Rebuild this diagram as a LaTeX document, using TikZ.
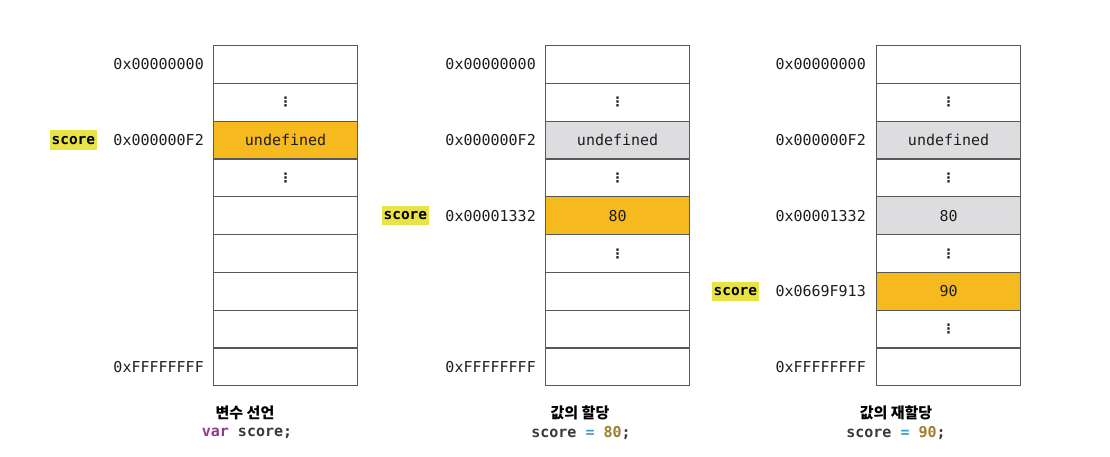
\documentclass[tikz,border=0pt]{standalone}
\usepackage{fontspec}
\setmonofont{DejaVu Sans Mono}
\newfontfamily\krfont{Noto Sans CJK KR}
\newfontfamily\symfont{DejaVu Sans}
\definecolor{cellline}{RGB}{88,88,88}
\definecolor{cellorange}{RGB}{246,185,30}
\definecolor{cellgray}{RGB}{221,220,223}
\definecolor{hlyellow}{RGB}{232,228,72}
\definecolor{txt}{RGB}{30,30,30}
\definecolor{kwpurple}{RGB}{140,60,140}
\definecolor{opblue}{RGB}{60,160,205}
\definecolor{numgold}{RGB}{162,123,46}
\definecolor{codegray}{RGB}{58,58,58}
\newcommand{\vd}{{\symfont\bfseries\fontsize{13}{14}\selectfont ⋮}}
\tikzset{
  cell/.style={draw=cellline, line width=1.2pt, minimum width=144pt, minimum height=37.8pt,
    inner sep=0pt, anchor=north west, text=txt, font=\ttfamily\fontsize{15}{18}\selectfont},
  addr/.style={anchor=east, inner sep=0pt, text=txt, font=\ttfamily\fontsize{15}{18}\selectfont},
  hl/.style={anchor=east, fill=hlyellow, inner xsep=1.6pt, inner ysep=0pt, minimum height=19.5pt,
    text=black, font=\ttfamily\bfseries\fontsize{14.5}{17}\selectfont},
  krcap/.style={inner sep=0pt, text=black, font=\krfont\bfseries\fontsize{15}{17}\selectfont},
  codecap/.style={inner sep=0pt, text=codegray, font=\ttfamily\bfseries\fontsize{15}{17}\selectfont}
}
\begin{document}
\begin{tikzpicture}[x=1pt,y=-1pt]
\useasboundingbox[fill=white] (0,0) rectangle (1110,457);
% ---------- column 1 ----------
\node[cell] (c1r0) at (213,45) {};
\node[cell] (c1r1) at (213,82.8) {\vd};
\node[cell, fill=cellorange] (c1r2) at (213,120.6) {undefined};
\node[cell] (c1r3) at (213,158.4) {\vd};
\node[cell] (c1r4) at (213,196.2) {};
\node[cell] (c1r5) at (213,234) {};
\node[cell] (c1r6) at (213,271.8) {};
\node[cell] (c1r7) at (213,309.6) {};
\node[cell] (c1r8) at (213,347.4) {};
\node[addr] (a1r0) at ([xshift=-9pt]c1r0.west) {0x00000000};
\node[addr] (a1r2) at ([xshift=-9pt]c1r2.west) {0x000000F2};
\node[addr] (a1r8) at ([xshift=-9pt]c1r8.west) {0xFFFFFFFF};
\node[hl] (s1) at ([xshift=-116pt]c1r2.west) {score};
% ---------- column 2 ----------
\node[cell] (c2r0) at (545,45) {};
\node[cell] (c2r1) at (545,82.8) {\vd};
\node[cell, fill=cellgray] (c2r2) at (545,120.6) {undefined};
\node[cell] (c2r3) at (545,158.4) {\vd};
\node[cell, fill=cellorange] (c2r4) at (545,196.2) {80};
\node[cell] (c2r5) at (545,234) {\vd};
\node[cell] (c2r6) at (545,271.8) {};
\node[cell] (c2r7) at (545,309.6) {};
\node[cell] (c2r8) at (545,347.4) {};
\node[addr] (a2r0) at ([xshift=-9pt]c2r0.west) {0x00000000};
\node[addr] (a2r2) at ([xshift=-9pt]c2r2.west) {0x000000F2};
\node[addr] (a2r4) at ([xshift=-9pt]c2r4.west) {0x00001332};
\node[addr] (a2r8) at ([xshift=-9pt]c2r8.west) {0xFFFFFFFF};
\node[hl] (s2) at ([xshift=-116pt]c2r4.west) {score};
% ---------- column 3 ----------
\node[cell] (c3r0) at (876,45) {};
\node[cell] (c3r1) at (876,82.8) {\vd};
\node[cell, fill=cellgray] (c3r2) at (876,120.6) {undefined};
\node[cell] (c3r3) at (876,158.4) {\vd};
\node[cell, fill=cellgray] (c3r4) at (876,196.2) {80};
\node[cell] (c3r5) at (876,234) {\vd};
\node[cell, fill=cellorange] (c3r6) at (876,271.8) {90};
\node[cell] (c3r7) at (876,309.6) {\vd};
\node[cell] (c3r8) at (876,347.4) {};
\node[addr] (a3r0) at ([xshift=-10pt]c3r0.west) {0x00000000};
\node[addr] (a3r2) at ([xshift=-10pt]c3r2.west) {0x000000F2};
\node[addr] (a3r4) at ([xshift=-10pt]c3r4.west) {0x00001332};
\node[addr] (a3r6) at ([xshift=-10pt]c3r6.west) {0x0669F913};
\node[addr] (a3r8) at ([xshift=-10pt]c3r8.west) {0xFFFFFFFF};
\node[hl] (s3) at ([xshift=-117pt]c3r6.west) {score};
% ---------- captions ----------
\node[krcap] (k1) at (245,413) {변수 선언};
\node[codecap] (p1) at (247,433) {\textcolor{kwpurple}{var} score;};
\node[krcap] (k2) at (580,413) {값의 할당};
\node[codecap] (p2) at (581,433) {score \textcolor{opblue}{=} \textcolor{numgold}{80};};
\node[krcap] (k3) at (896,413) {값의 재할당};
\node[codecap] (p3) at (896,433) {score \textcolor{opblue}{=} \textcolor{numgold}{90};};
\end{tikzpicture}
\end{document}
